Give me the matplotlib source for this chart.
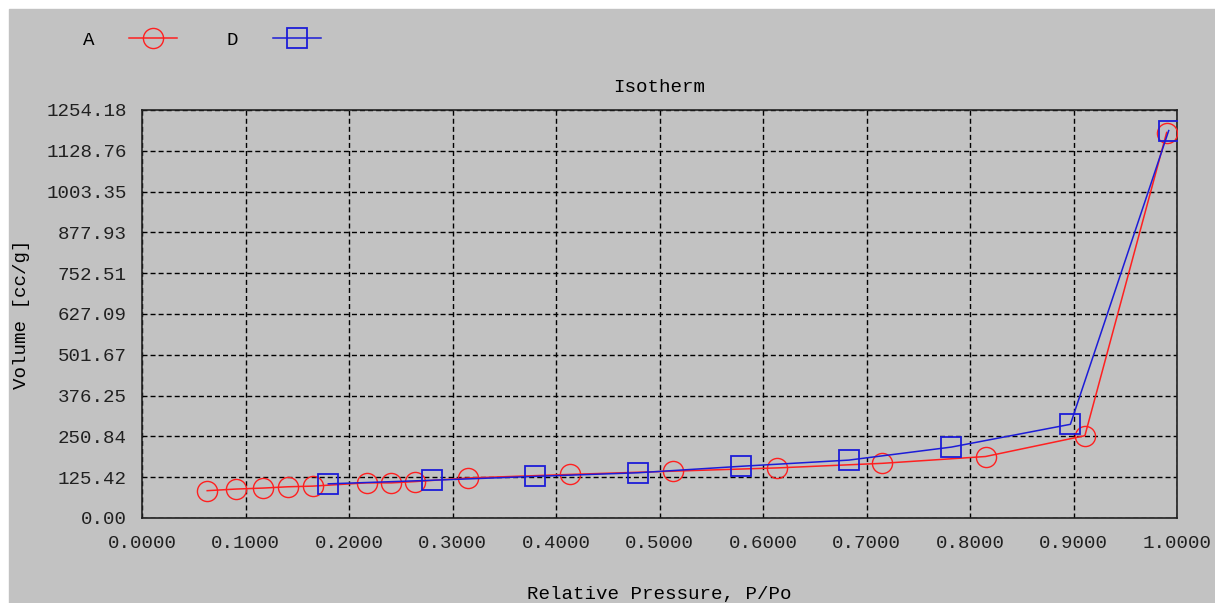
import numpy as np
import matplotlib
matplotlib.use("Agg")
import matplotlib.pyplot as plt
from matplotlib.ticker import FixedLocator

# adsorption (A) and desorption (D) branches
p_ads = [0.063, 0.091, 0.117, 0.141, 0.165, 0.217, 0.241, 0.264, 0.315,
         0.414, 0.513, 0.614, 0.715, 0.815, 0.911, 0.990]
v_ads = [84, 89, 92, 96, 98, 108, 108, 112, 123,
         134, 144, 154, 168, 189, 253, 1185]

p_des = [0.180, 0.280, 0.380, 0.479, 0.579, 0.683, 0.782, 0.897, 0.992]
v_des = [105, 116, 128, 139, 159, 178, 218, 288, 1191]

x_ticks = [0.0, 0.1, 0.2, 0.3, 0.4, 0.5, 0.6, 0.7, 0.8, 0.9, 1.0]
y_ticks = [0.00, 125.42, 250.84, 376.25, 501.67, 627.09, 752.51,
           877.93, 1003.35, 1128.76, 1254.18]

bg = "#c2c2c2"
font = ["Liberation Mono", "DejaVu Sans Mono"]
fs = 13.8

fig = plt.figure(figsize=(12.15, 6.03), dpi=100)
fig.patch.set_facecolor("white")
# gray panel, white strip on top/left like the screenshot
fig.patches.append(plt.Rectangle((9 / 1215, 0), 1, 1 - 9 / 603,
                                 transform=fig.transFigure, color=bg, zorder=-10))

ax = fig.add_axes([142 / 1215, 85 / 603, 1035 / 1215, 408 / 603])
ax.set_facecolor(bg)

line_a, = ax.plot(p_ads, v_ads, color="#ff2020", lw=1.1, marker="o", ms=14.5,
                  mfc="none", mec="#ff2020", mew=1.0, label="A", zorder=3)
line_d, = ax.plot(p_des, v_des, color="#1c1cd8", lw=1.1, marker="s", ms=14.5,
                  mfc="none", mec="#1c1cd8", mew=1.3, label="D", zorder=4)

ax.set_xlim(0, 1)
ax.set_ylim(0, y_ticks[-1])
ax.xaxis.set_major_locator(FixedLocator(x_ticks))
ax.yaxis.set_major_locator(FixedLocator(y_ticks))
ax.set_xticklabels([f"{v:.4f}" for v in x_ticks], family=font, fontsize=fs)
ax.set_yticklabels([f"{v:.2f}" for v in y_ticks], family=font, fontsize=fs)
ax.tick_params(length=0, pad=11, colors="#202020")
ax.tick_params(axis="x", pad=12)

ax.grid(True, color="black", lw=1.0, linestyle=(0, (3.6, 2.2)))
for s in ax.spines.values():
    s.set_linewidth(1.2)
    s.set_color("#202020")

ax.set_title("Isotherm", family=font, fontsize=fs, pad=13)
ax.set_xlabel("Relative Pressure, P/Po", family=font, fontsize=fs, labelpad=25)
ax.set_ylabel("Volume [cc/g]", family=font, fontsize=fs, labelpad=12)

fig.legend(handles=[line_a, line_d], loc="center left",
           bbox_to_anchor=(66 / 1215, 1 - 40 / 603), ncol=2, markerfirst=False,
           frameon=False, handlelength=2.5, handletextpad=1.8, columnspacing=2.6,
           prop={"family": font, "size": fs})

fig.savefig("out.png", dpi=100, facecolor=fig.get_facecolor())
